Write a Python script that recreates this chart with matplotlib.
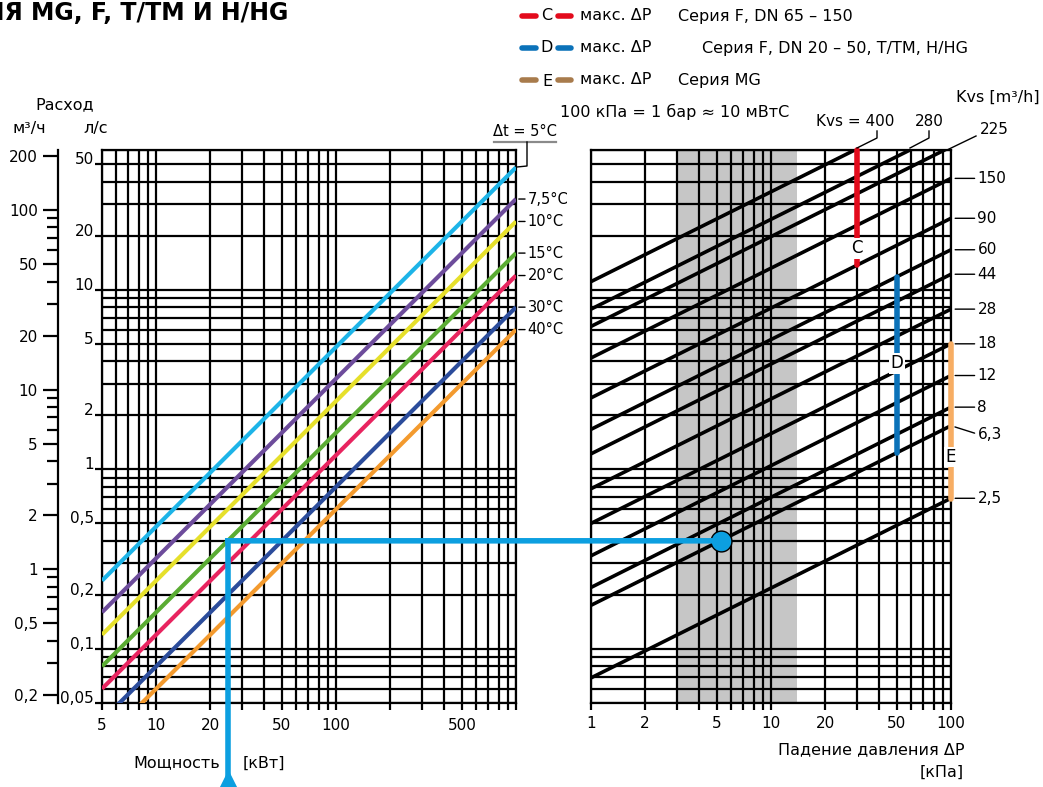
import numpy as np
import matplotlib.pyplot as plt
from matplotlib.lines import Line2D
from matplotlib.patches import ConnectionPatch
from matplotlib.ticker import LogLocator, NullFormatter, FixedLocator

plt.rcParams['font.family'] = ['DejaVu Sans']

W, H = 1043, 787

# axis ranges
power_range = [5, 1000]     # kW
flow_range = [0.05, 60]     # l/s
dp_range = [1, 100]         # kPa

# delta-t lines (left chart): flow in l/s at 5 kW and at 1000 kW
dt_names = ['Δt = 5°C', '7,5°C', '10°C', '15°C', '20°C', '30°C', '40°C']
dt_colors = ['#1db4e8', '#6d4c9b', '#e6e02b', '#5aac33', '#e8245f', '#2b4c9b', '#f39a2e']
dt_flow_5kw = [0.24, 0.16, 0.12, 0.08, 0.06, 0.04, 0.03]
dt_flow_1000kw = [48, 32, 24, 16, 12, 8, 6]

# Kvs lines (right chart): flow in l/s at 1 kPa and at 100 kPa
kvs_names = ['400', '280', '225', '150', '90', '60', '44', '28', '18', '12', '8', '6,3', '2,5']
kvs_flow_1kpa = [11.1, 7.8, 6.25, 4.17, 2.5, 1.67, 1.22, 0.78, 0.5, 0.33, 0.22, 0.175, 0.069]
kvs_flow_100kpa = [111, 78, 62.5, 41.7, 25, 16.7, 12.2, 7.8, 5.0, 3.33, 2.22, 1.75, 0.69]

# max dP bars
bar_names = ['C', 'D', 'E']
bar_dp = [30, 50, 100]
bar_flow_lo = [13.7, 1.24, 0.68]
bar_flow_hi = [60, 11.8, 5.0]
bar_flow_tag = [17, 3.9, 1.17]
bar_colors = ['#e30b1c', '#0b72b9', '#f7ad63']
legend_colors = ['#e30b1c', '#0b72b9', '#a87b4c']
legend_series = ['Серия F, DN 65 – 150', 'Серия F, DN 20 – 50, T/TM, H/HG', 'Серия MG']

# worked example
ex_power, ex_flow, ex_dp = 25, 0.4, 5.3
ex_color = '#0c9fe0'

# tick values
power_ticks = [5, 10, 20, 50, 100, 500]
dp_ticks = [1, 2, 5, 10, 20, 50, 100]
flow_ticks = [0.05, 0.1, 0.2, 0.5, 1, 2, 5, 10, 20, 50]
m3h_ticks = [0.2, 0.5, 1, 2, 5, 10, 20, 50, 100, 200]
m3h_minor = [0.3, 0.4, 0.6, 0.7, 0.8, 0.9, 3, 4, 6, 7, 8, 9, 30, 40, 60, 70, 80, 90]


def fmt(v):
    return str(v).replace('.', ',')


def fig_line(xs, ys, **kw):
    fig.add_artist(Line2D([x / W for x in xs], [1 - y / H for y in ys],
                          transform=fig.transFigure, **kw))


def fig_text(x, y, s, **kw):
    fig.text(x / W, 1 - y / H, s, **kw)


fig = plt.figure(figsize=(W / 100, H / 100), dpi=100)
ax1 = fig.add_axes([102 / W, 84 / H, 414 / W, 553 / H])
ax2 = fig.add_axes([591 / W, 84 / H, 360 / W, 553 / H])

GRID_LW = 1.6
for ax in (ax1, ax2):
    ax.set_xscale('log')
    ax.set_yscale('log')
    ax.set_ylim(flow_range)
    ax.xaxis.set_minor_locator(LogLocator(base=10, subs=np.arange(1, 10), numticks=50))
    ax.yaxis.set_minor_locator(LogLocator(base=10, subs=np.arange(1, 10), numticks=50))
    ax.xaxis.set_minor_formatter(NullFormatter())
    ax.yaxis.set_minor_formatter(NullFormatter())
    ax.grid(which='both', color='black', lw=GRID_LW)
    for sp in ax.spines.values():
        sp.set_linewidth(GRID_LW)
    ax.tick_params(axis='x', which='both', direction='out', length=5, width=GRID_LW,
                   labelsize=11)

# ---- left chart: power -> flow ----
ax1.set_xlim(power_range)
ax1.set_xticks(power_ticks, labels=[fmt(v) for v in power_ticks])
ax1.set_yticks(flow_ticks, labels=[fmt(v) for v in flow_ticks], va='baseline')
ax1.yaxis.set_minor_formatter(NullFormatter())
ax1.tick_params(axis='x', pad=6)
ax1.tick_params(axis='y', which='major', direction='out', length=5, width=GRID_LW,
                pad=1, labelsize=11)
ax1.tick_params(axis='y', which='minor', length=0)

for q0, q1, c in zip(dt_flow_5kw, dt_flow_1000kw, dt_colors):
    ax1.plot(power_range, [q0, q1], color=c, lw=3, solid_capstyle='butt', zorder=3)

for name, q1 in zip(dt_names[1:], dt_flow_1000kw[1:]):
    ax1.annotate(name, xy=(power_range[1], q1), xytext=(8.5, 0), textcoords='offset points',
                 ha='left', va='center', fontsize=10.5, annotation_clip=False,
                 arrowprops=dict(arrowstyle='-', lw=1, shrinkA=0, shrinkB=2,
                                 relpos=(0, 0.5)))

# Δt = 5 °C tag with underline and leader
fig_text(525, 131, dt_names[0], ha='center', va='center', fontsize=10.5)
fig_line([494, 556], [142, 142], color='#8a8a8a', lw=1.6)
fig_line([527, 527, 517], [142, 166, 167], color='black', lw=1)

# m3/h scale on the far left
sec = ax1.secondary_yaxis((58 - 102) / 414, functions=(lambda q: q * 3.6, lambda q: q / 3.6))
sec.set_yticks(m3h_ticks, labels=[fmt(v) for v in m3h_ticks])
sec.yaxis.set_minor_locator(FixedLocator(m3h_minor))
sec.yaxis.set_minor_formatter(NullFormatter())
sec.tick_params(which='major', length=11, width=GRID_LW, labelsize=11)
sec.tick_params(which='minor', length=8, width=GRID_LW)
for sp in sec.spines.values():
    sp.set_linewidth(GRID_LW)

# ---- right chart: pressure drop -> flow ----
ax2.set_xlim(dp_range)
ax2.set_xticks(dp_ticks, labels=[fmt(v) for v in dp_ticks])
ax2.tick_params(axis='x', pad=4)
ax2.tick_params(axis='y', which='both', length=0, labelleft=False)
ax2.axvspan(3, 14, color='#c6c6c6', lw=0, zorder=0.5)

for q0, q1 in zip(kvs_flow_1kpa, kvs_flow_100kpa):
    ax2.plot(dp_range, [q0, q1], color='black', lw=2.6, solid_capstyle='butt', zorder=3)

for name, q1 in zip(kvs_names[3:], kvs_flow_100kpa[3:]):
    dy = -6 if name == '6,3' else 0
    ax2.annotate(name, xy=(dp_range[1], q1), xytext=(19, dy), textcoords='offset points',
                 ha='left', va='center', fontsize=11, annotation_clip=False,
                 arrowprops=dict(arrowstyle='-', lw=1, shrinkA=0, shrinkB=3,
                                 relpos=(0, 0.5)))

for name, dp, lo, hi, tag, col in zip(bar_names, bar_dp, bar_flow_lo, bar_flow_hi,
                                      bar_flow_tag, bar_colors):
    ax2.plot([dp, dp], [lo, hi], color=col, lw=4, solid_capstyle='round', zorder=4,
             clip_on=False)
    ax2.text(dp, tag, name, ha='center', va='center', fontsize=12, zorder=5,
             bbox=dict(fc='white', ec='none', pad=1))

# Kvs labels above the chart
fig_text(1040, 97, 'Kvs [m³/h]', ha='right', va='center', fontsize=11.5)
fig_text(855, 121, 'Kvs = ' + kvs_names[0], ha='center', va='center', fontsize=11)
fig_text(929, 121, kvs_names[1], ha='center', va='center', fontsize=11)
fig_text(994, 129, kvs_names[2], ha='center', va='center', fontsize=11)
fig_line([877, 877, 857], [131, 138, 148], color='black', lw=1)
fig_line([929, 929, 910], [131, 138, 148], color='black', lw=1)
fig_line([976, 947], [136, 150], color='black', lw=1)

# worked example path
ax1.plot([ex_power, ex_power], [ex_flow, 0.017], color=ex_color, lw=4,
         solid_capstyle='projecting', clip_on=False, zorder=6)
ax1.plot([ex_power], [0.0188], marker='^', ms=12, color=ex_color, clip_on=False, zorder=6)
con = ConnectionPatch(xyA=(ex_power, ex_flow), coordsA=ax1.transData,
                      xyB=(ex_dp, ex_flow), coordsB=ax2.transData,
                      color=ex_color, lw=4, capstyle='projecting', zorder=6)
fig.add_artist(con)
ax2.plot([ex_dp], [ex_flow], marker='o', ms=15, mfc=ex_color, mec='black', mew=1,
         zorder=7, clip_on=False)

# axis captions
fig_text(65, 105, 'Расход', ha='center', va='center', fontsize=11.5)
fig_text(12, 128, 'м³/ч', ha='left', va='center', fontsize=11.5)
fig_text(83, 128, 'л/с', ha='left', va='center', fontsize=11.5)
fig_text(133, 763, 'Мощность', ha='left', va='center', fontsize=11.5)
fig_text(243, 763, '[кВт]', ha='left', va='center', fontsize=11.5)
fig_text(964, 750, 'Падение давления ΔP', ha='right', va='center', fontsize=11.5)
fig_text(964, 772, '[кПа]', ha='right', va='center', fontsize=11.5)

# title (cut at the left edge as in the source page)
fig_text(288, 13, 'СЕРИЯ MG, F, T/TM И H/HG', ha='right', va='center', fontsize=17,
         fontweight='bold')

# legend block
for i, (name, col, series) in enumerate(zip(bar_names, legend_colors, legend_series)):
    y = 16 + i * 32
    fig_line([522, 536], [y, y], color=col, lw=4, solid_capstyle='round')
    fig_line([558, 571], [y, y], color=col, lw=4, solid_capstyle='round')
    fig_text(547, y + (2 if name == 'E' else 0), name, ha='center', va='center', fontsize=11.5)
    fig_text(580, y, 'макс. ΔP', ha='left', va='center', fontsize=11.5)
    fig_text(702 if i == 1 else 678, y, series, ha='left', va='center', fontsize=11.5)

fig_text(560, 112, '100 кПа = 1 бар ≈ 10 мВтС', ha='left', va='center', fontsize=11.5)

fig.savefig('out.png', dpi=100)
